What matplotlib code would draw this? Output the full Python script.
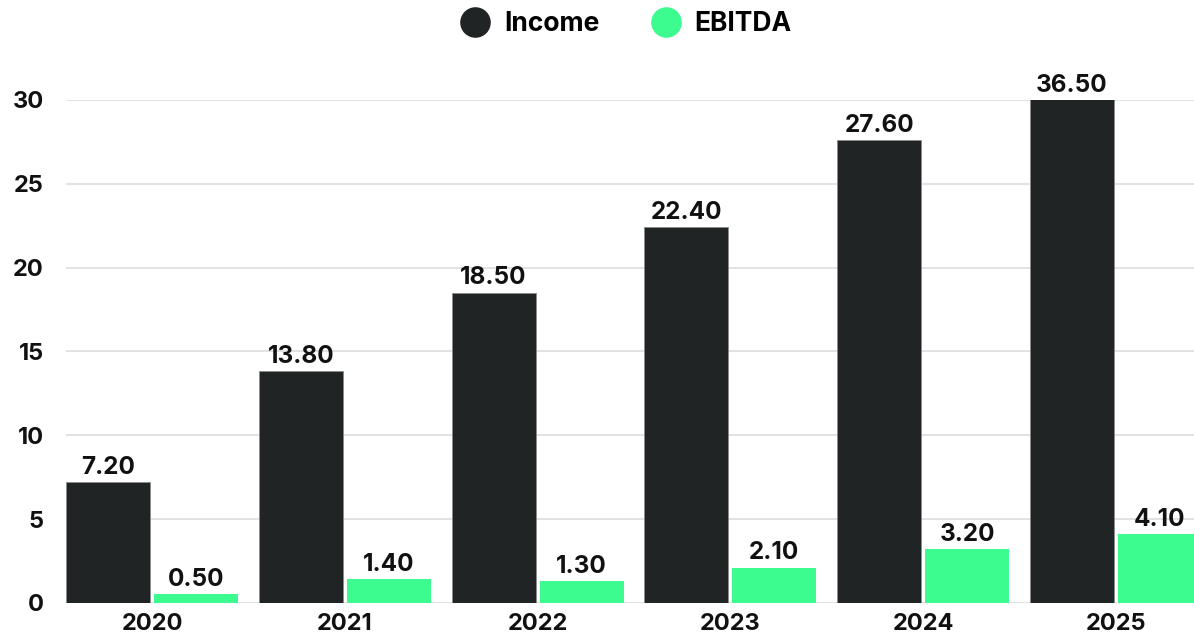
import numpy as np
import matplotlib.pyplot as plt
from matplotlib.lines import Line2D

years = ["2020", "2021", "2022", "2023", "2024", "2025"]
income = [7.20, 13.80, 18.50, 22.40, 27.60, 36.50]
ebitda = [0.50, 1.40, 1.30, 2.10, 3.20, 4.10]

plt.rcParams['font.family'] = ['Inter', 'DejaVu Sans']
plt.rcParams['font.weight'] = 'bold'

dark = "#212424"
green = "#3dfc8f"

fig = plt.figure(figsize=(11.94, 6.4), dpi=100)
ax = fig.add_axes([0.0553, 0.058, 0.9447, 0.786])

x = np.arange(len(years))
w = 0.436
off = 0.228

b1 = ax.bar(x - off, income, w, color=dark, edgecolor="#8a8a8a", linewidth=0.6, zorder=3)
b2 = ax.bar(x + off, ebitda, w, color=green, zorder=3)

# value labels, income above 30 gets its label on the clipped top
for bars, vals in [(b1, income), (b2, ebitda)]:
    for rect, v in zip(bars, vals):
        top = min(v, 30)
        ax.annotate(f"{v:.2f}", (rect.get_x() + rect.get_width() / 2, top),
                    xytext=(0, 6), textcoords="offset points",
                    ha="center", va="baseline", fontsize=17.5, fontweight="bold",
                    color="#111111", annotation_clip=False, zorder=4)

ax.set_ylim(0, 30)
ax.set_xlim(-0.446, 5.405)
ax.set_yticks([0, 5, 10, 15, 20, 25, 30])
ax.set_xticks(x)
ax.set_xticklabels(years)
ax.tick_params(length=0, labelsize=17, colors="#111111")
ax.tick_params(axis="x", pad=7)
ax.tick_params(axis="y", pad=16)
for lab in ax.get_xticklabels() + ax.get_yticklabels():
    lab.set_fontweight("bold")
ax.grid(axis="y", color="#dddddd", linewidth=1.2, zorder=0)
for s in ax.spines.values():
    s.set_visible(False)
ax.set_axisbelow(True)

handles = [Line2D([], [], marker="o", linestyle="", markersize=21, color=dark),
           Line2D([], [], marker="o", linestyle="", markersize=21, color=green)]
leg = fig.legend(handles, ["Income", "EBITDA"], loc="center",
                 bbox_to_anchor=(0.524, 0.962), ncol=2, frameon=False,
                 prop={"size": 19, "weight": "bold"}, columnspacing=1.9,
                 handlelength=1.2, handletextpad=0.5, borderpad=0.2)

fig.savefig("out.png", dpi=100)
